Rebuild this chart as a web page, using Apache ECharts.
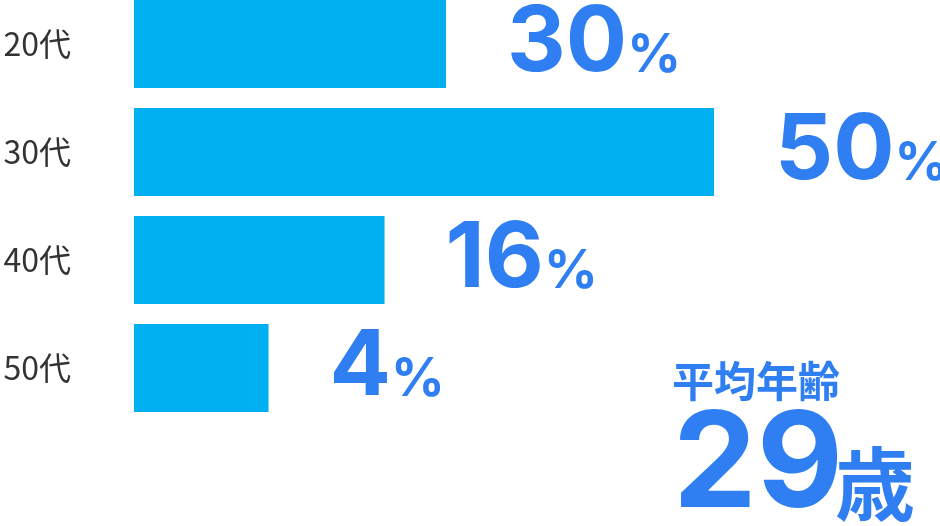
<!DOCTYPE html>
<html>
<head>
<meta charset="utf-8">
<script src="https://cdn.jsdelivr.net/npm/echarts@6/dist/echarts.min.js"></script>
<style>
html,body{margin:0;padding:0;background:#fff;}
#chart{width:940px;height:526px;}
</style>
</head>
<body>
<div id="chart"></div>
<script>
// Age groups
var categories = ['20代', '30代', '40代', '50代'];
// Percentages shown in the labels
var percentages = [30, 50, 16, 4];
// Bar lengths as drawn in the picture (the longest bar = 50 on the axis)
var barValues = [26.9, 50, 21.6, 11.6];
// Average age block
var avgTitle = '平均年齢';
var avgAge = 29;
var avgUnit = '歳';

var BLUE = '#2f7ef2';
var BAR = '#00b0f0';
var FONT = '"Noto Sans CJK JP", "Noto Sans", sans-serif';
var NUMFONT = 'Inter, "Noto Sans", sans-serif';

var chart = echarts.init(document.getElementById('chart'), null, {renderer: 'canvas'});

chart.setOption({
  animation: false,
  backgroundColor: '#ffffff',
  grid: {left: 134, top: -10, width: 580, height: 432, containLabel: false, outerBoundsMode: 'none'},
  xAxis: {
    type: 'value', min: 0, max: 50,
    show: false
  },
  yAxis: {
    type: 'category',
    data: categories,
    inverse: true,
    axisLine: {show: false},
    axisTick: {show: false},
    splitLine: {show: false},
    axisLabel: {
      margin: 63,
      fontSize: 32,
      color: '#333333',
      fontFamily: FONT,
      fontWeight: 'normal'
    }
  },
  series: [{
    type: 'bar',
    data: barValues,
    barWidth: 88,
    itemStyle: {color: BAR},
    label: {
      show: true,
      position: 'right',
      distance: 61,
      formatter: function (p) {
        return '{n|' + percentages[p.dataIndex] + '}{p|%}';
      },
      rich: {
        n: {fontSize: 91, fontWeight: 'bold', color: BLUE, fontFamily: NUMFONT, lineHeight: 92},
        p: {fontSize: 53, fontWeight: 'bold', color: BLUE, fontFamily: NUMFONT, lineHeight: 53, padding: [0, 0, 7, 0], verticalAlign: 'bottom'}
      }
    }
  }],
  graphic: [
    {
      type: 'text', left: 672, top: 360,
      style: {text: avgTitle, fill: BLUE, font: 'bold 42px ' + FONT}
    },
    {
      type: 'text', x: 673, y: 467,
      style: {text: String(avgAge), fill: BLUE, font: 'bold 133px ' + NUMFONT, verticalAlign: 'middle', align: 'left'}
    },
    {
      type: 'text', x: 835, y: 484,
      style: {text: avgUnit, fill: BLUE, font: 'bold 80px ' + FONT, verticalAlign: 'middle', align: 'left'}
    }
  ]
});
</script>
</body>
</html>
